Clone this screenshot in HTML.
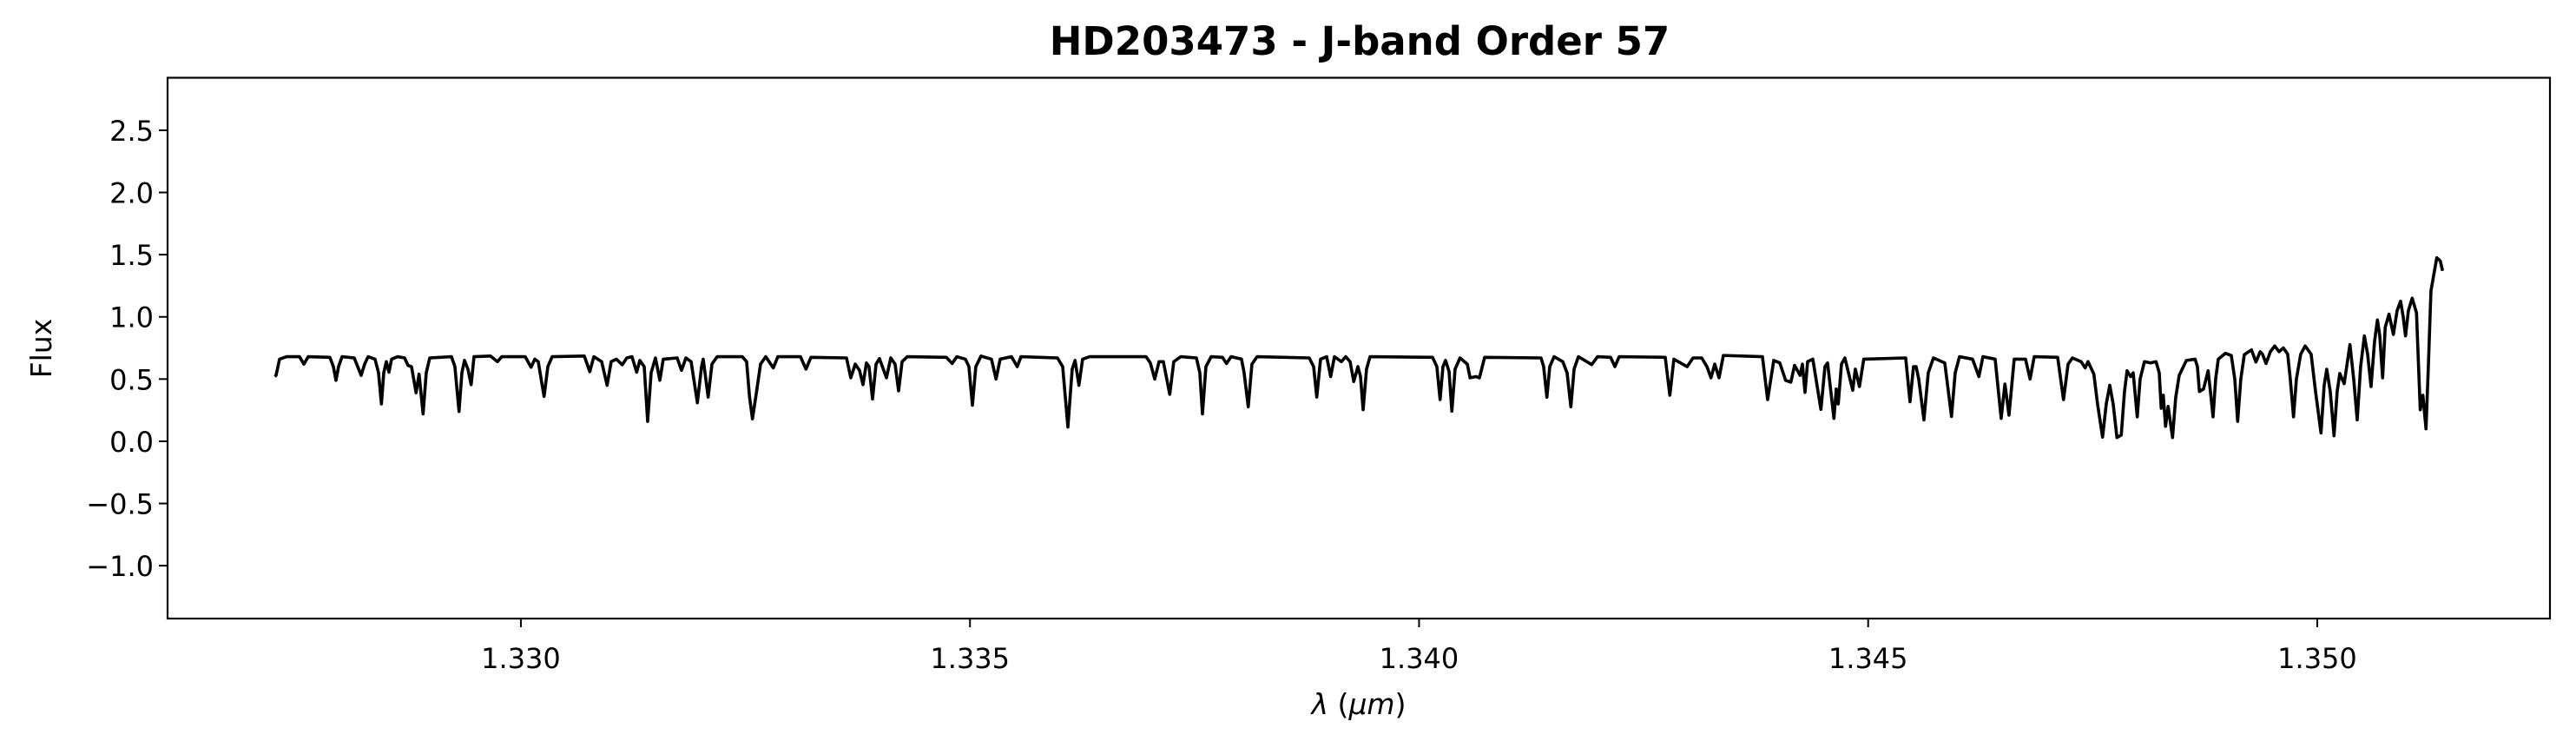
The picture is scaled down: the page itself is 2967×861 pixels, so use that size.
<!DOCTYPE html>
<html><head><meta charset="utf-8"><style>
html,body{margin:0;padding:0;background:#fff;}
svg{display:block;font-family:"DejaVu Sans","Liberation Sans",sans-serif;}
</style></head><body>
<svg id="chart" width="2967" height="861" viewBox="0 0 2967 861" xmlns="http://www.w3.org/2000/svg">
<rect x="0" y="0" width="2967" height="861" fill="#fff"/>
<text x="1566" y="63" text-anchor="middle" font-size="45" font-weight="bold">HD203473 - J-band Order 57</text>
<g id="yticks"></g>
<g id="xticks"></g>
<path id="series" fill="none" stroke="#000" stroke-width="3.6" stroke-linejoin="round"/>
<rect x="193" y="89.5" width="2744" height="622.5" fill="none" stroke="#000" stroke-width="2.2"/>
<text transform="translate(59,401) rotate(-90)" text-anchor="middle" font-size="33">Flux</text>
<text x="1565" y="822" text-anchor="middle" font-size="33"><tspan font-style="italic">λ</tspan> (<tspan font-style="italic">μm</tspan>)</text>
</svg>
<script>
const yTickValues = [-1.0, -0.5, 0.0, 0.5, 1.0, 1.5, 2.0, 2.5];
const yTickLabels = ["−1.0", "−0.5", "0.0", "0.5", "1.0", "1.5", "2.0", "2.5"];
const xTickValues = [1.330, 1.335, 1.340, 1.345, 1.350];
const xTickLabels = ["1.330", "1.335", "1.340", "1.345", "1.350"];
const wave = [1.327261,1.327274,1.327313,1.327390,1.327535,1.327583,1.327632,1.327873,1.327912,1.327941,1.327970,1.328009,1.328144,1.328183,1.328221,1.328260,1.328299,1.328376,1.328415,1.328447,1.328473,1.328502,1.328531,1.328560,1.328627,1.328705,1.328743,1.328782,1.328833,1.328866,1.328911,1.328946,1.328985,1.329227,1.329265,1.329311,1.329343,1.329372,1.329410,1.329446,1.329478,1.329662,1.329739,1.329787,1.330048,1.330113,1.330155,1.330193,1.330258,1.330300,1.330348,1.330706,1.330767,1.330812,1.330899,1.330960,1.331005,1.331063,1.331128,1.331179,1.331237,1.331289,1.331324,1.331373,1.331411,1.331450,1.331498,1.331547,1.331585,1.331740,1.331788,1.331837,1.331895,1.331965,1.332011,1.332030,1.332085,1.332127,1.332185,1.332465,1.332513,1.332545,1.332578,1.332626,1.332668,1.332726,1.332810,1.332861,1.333113,1.333174,1.333229,1.333625,1.333673,1.333722,1.333770,1.333809,1.333847,1.333876,1.333915,1.333954,1.333992,1.334070,1.334118,1.334166,1.334205,1.334244,1.334302,1.334737,1.334801,1.334853,1.334949,1.334988,1.335027,1.335065,1.335123,1.335239,1.335290,1.335336,1.335462,1.335526,1.335568,1.335974,1.336032,1.336090,1.336138,1.336170,1.336213,1.336254,1.336332,1.336960,1.337008,1.337057,1.337105,1.337153,1.337224,1.337269,1.337347,1.337521,1.337559,1.337588,1.337627,1.337685,1.337811,1.337856,1.337907,1.338023,1.338052,1.338098,1.338139,1.338197,1.338777,1.338826,1.338861,1.338903,1.338971,1.339016,1.339058,1.339135,1.339183,1.339232,1.339273,1.339319,1.339348,1.339377,1.339415,1.339454,1.340150,1.340198,1.340234,1.340266,1.340295,1.340334,1.340365,1.340401,1.340456,1.340537,1.340568,1.340633,1.340672,1.340730,1.341358,1.341387,1.341423,1.341455,1.341503,1.341600,1.341648,1.341690,1.341726,1.341774,1.341922,1.341987,1.342132,1.342180,1.342228,1.342741,1.342792,1.342837,1.342985,1.343050,1.343147,1.343205,1.343250,1.343292,1.343340,1.343388,1.343823,1.343881,1.343949,1.344016,1.344081,1.344139,1.344181,1.344242,1.344268,1.344297,1.344326,1.344384,1.344474,1.344519,1.344548,1.344619,1.344645,1.344667,1.344703,1.344741,1.344828,1.344857,1.344903,1.344951,1.345418,1.345466,1.345505,1.345534,1.345563,1.345621,1.345669,1.345727,1.345853,1.345928,1.345969,1.346017,1.346162,1.346233,1.346278,1.346414,1.346481,1.346523,1.346568,1.346626,1.346752,1.346803,1.346849,1.347110,1.347175,1.347226,1.347274,1.347371,1.347416,1.347448,1.347513,1.347554,1.347610,1.347651,1.347690,1.347728,1.347770,1.347818,1.347854,1.347883,1.347922,1.347951,1.347996,1.348028,1.348076,1.348144,1.348205,1.348241,1.348263,1.348286,1.348311,1.348340,1.348389,1.348424,1.348463,1.348543,1.348640,1.348666,1.348688,1.348734,1.348785,1.348811,1.348840,1.348869,1.348898,1.348978,1.349043,1.349082,1.349114,1.349149,1.349188,1.349268,1.349317,1.349365,1.349391,1.349430,1.349478,1.349526,1.349575,1.349623,1.349671,1.349700,1.349736,1.349768,1.349816,1.349865,1.349932,1.349981,1.350042,1.350077,1.350106,1.350145,1.350187,1.350222,1.350251,1.350300,1.350364,1.350406,1.350445,1.350483,1.350525,1.350561,1.350599,1.350638,1.350670,1.350696,1.350728,1.350757,1.350799,1.350848,1.350889,1.350928,1.350957,1.350983,1.351015,1.351057,1.351105,1.351147,1.351176,1.351211,1.351237,1.351266,1.351331,1.351370,1.351395];
const flux = [0.52,0.53,0.66,0.68,0.68,0.62,0.68,0.675,0.6,0.49,0.6,0.68,0.67,0.6,0.53,0.62,0.68,0.66,0.55,0.30,0.55,0.64,0.555,0.66,0.68,0.67,0.61,0.6,0.39,0.54,0.22,0.55,0.67,0.68,0.6,0.24,0.55,0.65,0.58,0.455,0.68,0.685,0.64,0.68,0.68,0.595,0.66,0.64,0.36,0.6,0.68,0.685,0.56,0.68,0.64,0.45,0.64,0.66,0.615,0.67,0.68,0.555,0.65,0.6,0.16,0.55,0.67,0.49,0.66,0.67,0.57,0.67,0.64,0.31,0.6,0.66,0.355,0.62,0.68,0.68,0.64,0.36,0.18,0.41,0.62,0.68,0.59,0.68,0.68,0.58,0.675,0.67,0.51,0.62,0.57,0.455,0.63,0.6,0.34,0.62,0.665,0.51,0.67,0.62,0.405,0.64,0.68,0.675,0.625,0.68,0.66,0.6,0.29,0.6,0.685,0.66,0.5,0.66,0.68,0.6,0.68,0.67,0.6,0.114,0.58,0.65,0.45,0.66,0.68,0.68,0.63,0.5,0.64,0.64,0.377,0.64,0.68,0.67,0.55,0.22,0.6,0.68,0.675,0.625,0.68,0.66,0.55,0.277,0.62,0.68,0.67,0.6,0.355,0.66,0.68,0.52,0.68,0.64,0.68,0.64,0.48,0.6,0.52,0.254,0.58,0.68,0.675,0.6,0.335,0.6,0.65,0.56,0.242,0.58,0.67,0.62,0.51,0.52,0.51,0.675,0.67,0.6,0.354,0.6,0.68,0.64,0.55,0.277,0.58,0.68,0.616,0.68,0.675,0.6,0.68,0.675,0.37,0.66,0.6,0.67,0.67,0.6,0.51,0.62,0.51,0.69,0.68,0.335,0.65,0.63,0.49,0.475,0.61,0.53,0.62,0.393,0.64,0.66,0.256,0.6,0.63,0.184,0.42,0.3,0.62,0.67,0.41,0.58,0.44,0.66,0.67,0.318,0.6,0.6,0.5,0.172,0.55,0.67,0.63,0.2,0.55,0.68,0.66,0.52,0.68,0.66,0.184,0.46,0.21,0.66,0.66,0.5,0.68,0.675,0.335,0.62,0.67,0.64,0.59,0.64,0.54,0.3,0.033,0.3,0.45,0.3,0.03,0.05,0.4,0.567,0.52,0.55,0.196,0.5,0.64,0.63,0.64,0.55,0.265,0.37,0.12,0.28,0.03,0.35,0.53,0.65,0.66,0.6,0.4,0.42,0.567,0.4,0.196,0.5,0.66,0.707,0.69,0.5,0.16,0.5,0.696,0.735,0.637,0.72,0.7,0.625,0.72,0.766,0.72,0.75,0.7,0.5,0.196,0.5,0.7,0.766,0.7,0.4,0.067,0.45,0.579,0.4,0.044,0.4,0.545,0.463,0.777,0.5,0.172,0.6,0.847,0.7,0.44,0.8,0.975,0.85,0.51,0.917,1.022,0.859,1.05,1.126,1.0,0.847,1.05,1.15,1.033,0.253,0.37,0.1,0.6,1.208,1.475,1.45,1.37];

const X0 = 193, X1 = 2937, Y0 = 712, Y1 = 89.5;
const xMin = 1.326066, xMax = 1.352591, yMin = -1.425, yMax = 2.922;
function xs(w){ return X0 + (w - xMin) / (xMax - xMin) * (X1 - X0); }
function ys(v){ return Y0 - (v - yMin) / (yMax - yMin) * (Y0 - Y1); }
const NS = "http://www.w3.org/2000/svg";

const yg = document.getElementById('yticks');
yTickValues.forEach((v, i) => {
  const y = ys(v);
  const t = document.createElementNS(NS, 'line');
  t.setAttribute('x1', X0 - 10); t.setAttribute('x2', X0);
  t.setAttribute('y1', y); t.setAttribute('y2', y);
  t.setAttribute('stroke', '#000'); t.setAttribute('stroke-width', '2');
  
  
  yg.appendChild(t);
  const l = document.createElementNS(NS, 'text');
  l.setAttribute('x', X0 - 16); l.setAttribute('y', y + 12);
  l.setAttribute('text-anchor', 'end'); l.setAttribute('font-size', '32');
  l.textContent = yTickLabels[i];
  
  
  yg.appendChild(l);
});

const xg = document.getElementById('xticks');
xTickValues.forEach((v, i) => {
  const x = xs(v);
  const t = document.createElementNS(NS, 'line');
  t.setAttribute('x1', x); t.setAttribute('x2', x);
  t.setAttribute('y1', Y0); t.setAttribute('y2', Y0 + 10);
  t.setAttribute('stroke', '#000'); t.setAttribute('stroke-width', '2');
  
  
  xg.appendChild(t);
  const l = document.createElementNS(NS, 'text');
  l.setAttribute('x', x); l.setAttribute('y', 769);
  l.setAttribute('text-anchor', 'middle'); l.setAttribute('font-size', '32');
  l.textContent = xTickLabels[i];
  
  
  xg.appendChild(l);
});

let d = '';
for (let i = 0; i < wave.length; i++) {
  d += (i ? 'L' : 'M') + xs(wave[i]).toFixed(2) + ' ' + ys(flux[i]).toFixed(2);
}
document.getElementById('series').setAttribute('d', d);
</script>
</body></html>
